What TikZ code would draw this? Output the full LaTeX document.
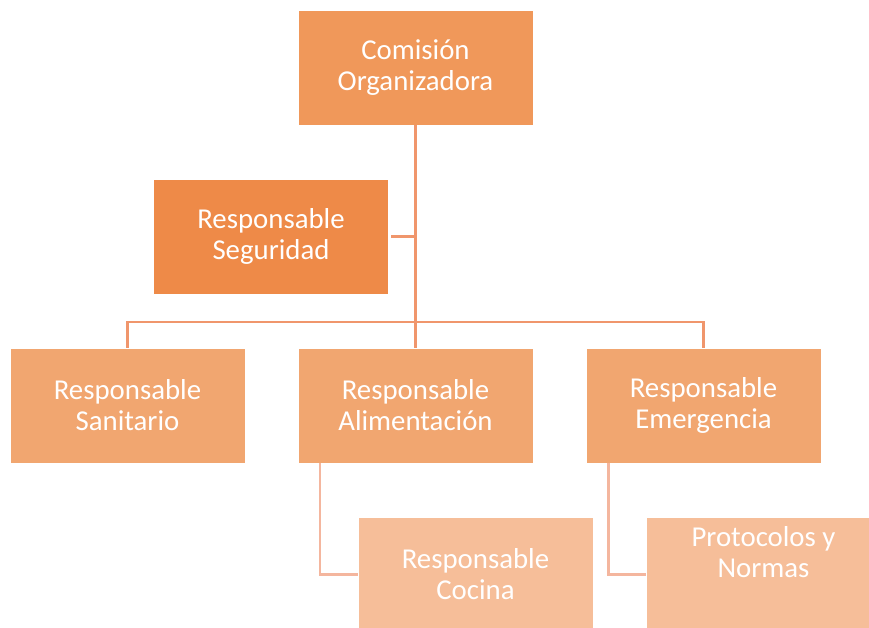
\documentclass[tikz,border=0pt]{standalone}
\usepackage{fontspec}
\setmainfont{Carlito}
\definecolor{naranjaA}{RGB}{240,152,90}
\definecolor{naranjaB}{RGB}{238,138,72}
\definecolor{naranjaC}{RGB}{241,166,112}
\definecolor{naranjaD}{RGB}{246,190,153}
\definecolor{lineaA}{RGB}{240,150,108}
\definecolor{lineaB}{RGB}{244,182,158}
\begin{document}
\begin{tikzpicture}[x=0.75pt,y=-0.75pt,
  every node/.style={minimum width=176pt,minimum height=86pt,inner sep=4pt,
    align=center,text=white,draw=white,line width=0.4pt,
    font=\fontsize{21.6}{23.3}\selectfont},
  jefe/.style={fill=naranjaA},
  apoyo/.style={fill=naranjaB},
  nivel/.style={fill=naranjaC},
  sub/.style={fill=naranjaD},
  enlace/.style={draw=lineaA,line width=2pt},
  enlacesub/.style={draw=lineaB,line width=2pt}]
\useasboundingbox (0,0) rectangle (869,628);
\node[jefe] (comision) at (415.5,67.5) {Comisión\\Organizadora};
\node[apoyo] (seg) at (271,236.5) {Responsable\\Seguridad};
\foreach \i/\x/\t in {san/127.5/Sanitario,ali/415.5/Alimentación,eme/703.5/Emergencia}
  \node[nivel] (\i) at (\x,405.5) {Responsable\\\t};
\node[sub] (cocina) at (475.5,574.5) {Responsable\\Cocina};
\node[sub,text depth=34pt] (proto) at (763.5,574.5) {Protocolos y\\Normas};
\coordinate (bus) at (415.5,322);
\draw[enlace] (comision.south) -- (ali.north);
\draw[enlace] ([xshift=2pt]seg.east) -- (seg.east -| comision.south);
\draw[enlace] (san.north) |- (bus) -| (eme.north);
\draw[enlacesub] ([xshift=16.5pt]ali.south west) |- (cocina.west);
\draw[enlacesub] ([xshift=17pt]eme.south west) |- (proto.west);
\end{tikzpicture}
\end{document}
